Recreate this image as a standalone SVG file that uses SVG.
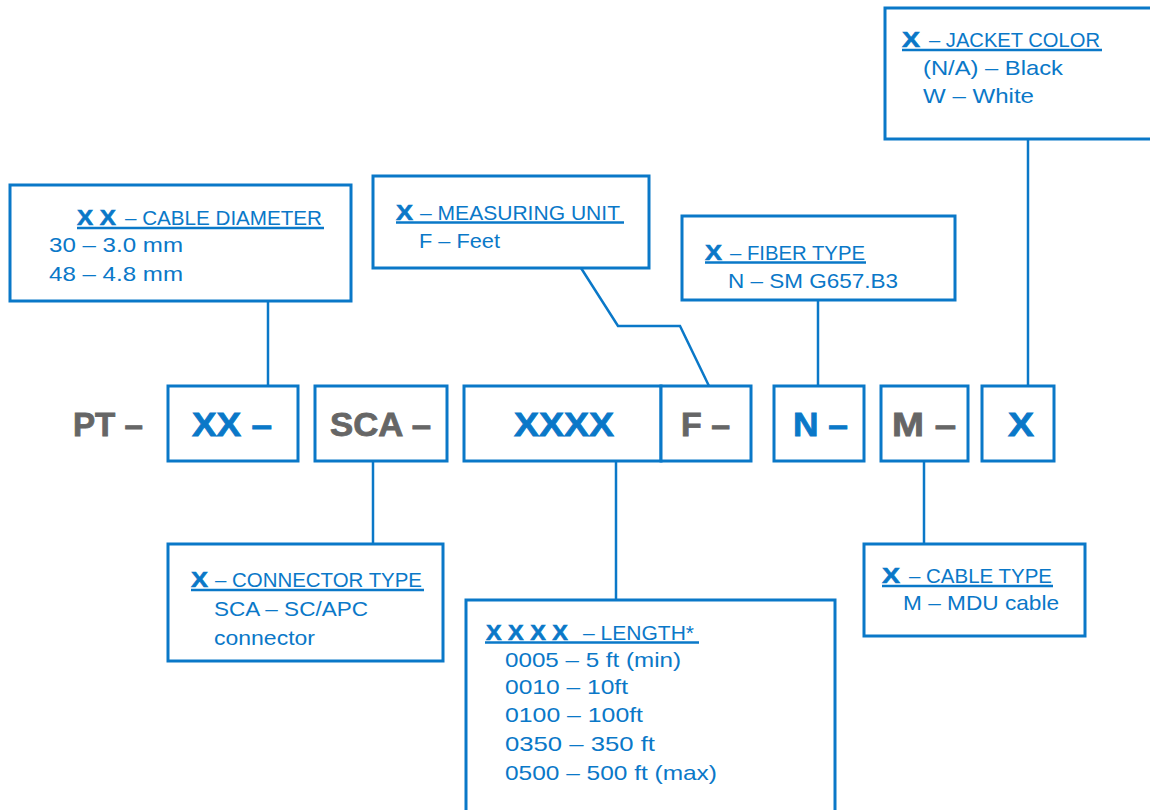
<svg xmlns="http://www.w3.org/2000/svg" width="1150" height="810" viewBox="0 0 1150 810">
<style>
.box{fill:#fff;stroke:#0a78c8;stroke-width:3}
.conn{fill:none;stroke:#0a78c8;stroke-width:2.5}
.ul{stroke:#0a78c8;stroke-width:2.5}
.lb{font-family:"Liberation Sans",Arial,sans-serif;font-size:21px;fill:#0a78c8}
.lbb{font-family:"Liberation Sans",Arial,sans-serif;font-size:22px;font-weight:bold;fill:#0a78c8;stroke:#0a78c8;stroke-width:0.6}
.cb{font-family:"Liberation Sans",Arial,sans-serif;font-size:33px;font-weight:bold;fill:#0a78c8;stroke:#0a78c8;stroke-width:0.8}
.cg{font-family:"Liberation Sans",Arial,sans-serif;font-size:33px;font-weight:bold;fill:#666;stroke:#666;stroke-width:0.8}
</style>
<rect width="1150" height="810" fill="#fff"/>
<g id="connectors">
<line class="conn" x1="268" y1="300" x2="268" y2="386"/>
<line class="conn" x1="373" y1="461" x2="373" y2="544"/>
<polyline class="conn" points="581,268 618,326 680,326 709,386"/>
<line class="conn" x1="818" y1="300" x2="818" y2="386"/>
<line class="conn" x1="1028" y1="139" x2="1028" y2="386"/>
<line class="conn" x1="616" y1="461" x2="616" y2="600"/>
<line class="conn" x1="924" y1="461" x2="924" y2="544"/>
</g>
<g id="cable-diameter">
<rect class="box" x="10" y="185" width="341" height="116"/>
<text class="lbb" x="77" y="225" textLength="39" lengthAdjust="spacingAndGlyphs">X X</text>
<text class="lb" x="125" y="225" textLength="197" lengthAdjust="spacingAndGlyphs">– CABLE DIAMETER</text>
<line class="ul" x1="77" y1="228" x2="324" y2="228"/>
<text class="lb" x="49" y="252" textLength="134" lengthAdjust="spacingAndGlyphs">30 – 3.0 mm</text>
<text class="lb" x="49" y="281" textLength="134" lengthAdjust="spacingAndGlyphs">48 – 4.8 mm</text>
</g>
<g id="measuring-unit">
<rect class="box" x="373" y="176" width="276" height="92"/>
<text class="lbb" x="396" y="220" textLength="17" lengthAdjust="spacingAndGlyphs">X</text>
<text class="lb" x="420" y="220" textLength="200" lengthAdjust="spacingAndGlyphs">– MEASURING UNIT</text>
<line class="ul" x1="396" y1="222.5" x2="624" y2="222.5"/>
<text class="lb" x="419" y="248" textLength="81" lengthAdjust="spacingAndGlyphs">F – Feet</text>
</g>
<g id="fiber-type">
<rect class="box" x="682" y="216" width="273" height="84"/>
<text class="lbb" x="705" y="260" textLength="17" lengthAdjust="spacingAndGlyphs">X</text>
<text class="lb" x="730" y="260" textLength="135" lengthAdjust="spacingAndGlyphs">– FIBER TYPE</text>
<line class="ul" x1="705" y1="262.5" x2="866" y2="262.5"/>
<text class="lb" x="728" y="288" textLength="170" lengthAdjust="spacingAndGlyphs">N – SM G657.B3</text>
</g>
<g id="jacket-color">
<rect class="box" x="885" y="8" width="280" height="131"/>
<text class="lbb" x="902" y="47" textLength="18" lengthAdjust="spacingAndGlyphs">X</text>
<text class="lb" x="929" y="47" textLength="171" lengthAdjust="spacingAndGlyphs">– JACKET COLOR</text>
<line class="ul" x1="902" y1="50" x2="1102" y2="50"/>
<text class="lb" x="923" y="75" textLength="140" lengthAdjust="spacingAndGlyphs">(N/A) – Black</text>
<text class="lb" x="923" y="103" textLength="111" lengthAdjust="spacingAndGlyphs">W – White</text>
</g>
<g id="code-pt">
<text class="cg" x="73" y="436" textLength="70" lengthAdjust="spacingAndGlyphs">PT –</text>
</g>
<g id="code-xx">
<rect class="box" x="168" y="386" width="130" height="75"/>
<text class="cb" x="192" y="436" textLength="80" lengthAdjust="spacingAndGlyphs">XX –</text>
</g>
<g id="code-sca">
<rect class="box" x="315" y="386" width="132" height="75"/>
<text class="cg" x="330" y="436" textLength="101" lengthAdjust="spacingAndGlyphs">SCA –</text>
</g>
<g id="code-xxxx">
<rect class="box" x="464" y="386" width="197" height="75"/>
<text class="cb" x="514" y="436" textLength="100" lengthAdjust="spacingAndGlyphs">XXXX</text>
</g>
<g id="code-f">
<rect class="box" x="661" y="386" width="90" height="75"/>
<text class="cg" x="681" y="436" textLength="49" lengthAdjust="spacingAndGlyphs">F –</text>
</g>
<g id="code-n">
<rect class="box" x="774" y="386" width="90" height="75"/>
<text class="cb" x="793" y="436" textLength="55" lengthAdjust="spacingAndGlyphs">N –</text>
</g>
<g id="code-m">
<rect class="box" x="881" y="386" width="87" height="75"/>
<text class="cg" x="892" y="436" textLength="64" lengthAdjust="spacingAndGlyphs">M –</text>
</g>
<g id="code-x">
<rect class="box" x="982" y="386" width="72" height="75"/>
<text class="cb" x="1008" y="436" textLength="26" lengthAdjust="spacingAndGlyphs">X</text>
</g>
<g id="connector-type">
<rect class="box" x="168" y="544" width="275" height="117"/>
<text class="lbb" x="191" y="587" textLength="17" lengthAdjust="spacingAndGlyphs">X</text>
<text class="lb" x="215" y="587" textLength="207" lengthAdjust="spacingAndGlyphs">– CONNECTOR TYPE</text>
<line class="ul" x1="191" y1="590" x2="424" y2="590"/>
<text class="lb" x="214" y="616" textLength="154" lengthAdjust="spacingAndGlyphs">SCA – SC/APC</text>
<text class="lb" x="214" y="645" textLength="101" lengthAdjust="spacingAndGlyphs">connector</text>
</g>
<g id="length">
<rect class="box" x="466" y="600" width="369" height="220"/>
<text class="lbb" x="486" y="640" textLength="82" lengthAdjust="spacingAndGlyphs">X X X X</text>
<text class="lb" x="583" y="640" textLength="111" lengthAdjust="spacingAndGlyphs">– LENGTH*</text>
<line class="ul" x1="485" y1="642.5" x2="699" y2="642.5"/>
<text class="lb" x="505" y="667" textLength="176" lengthAdjust="spacingAndGlyphs">0005 – 5 ft (min)</text>
<text class="lb" x="505" y="694" textLength="123" lengthAdjust="spacingAndGlyphs">0010 – 10ft</text>
<text class="lb" x="505" y="722" textLength="138" lengthAdjust="spacingAndGlyphs">0100 – 100ft</text>
<text class="lb" x="505" y="751" textLength="150" lengthAdjust="spacingAndGlyphs">0350 – 350 ft</text>
<text class="lb" x="505" y="780" textLength="212" lengthAdjust="spacingAndGlyphs">0500 – 500 ft (max)</text>
</g>
<g id="cable-type">
<rect class="box" x="864" y="544" width="221" height="92"/>
<text class="lbb" x="882" y="583" textLength="18" lengthAdjust="spacingAndGlyphs">X</text>
<text class="lb" x="909" y="583" textLength="143" lengthAdjust="spacingAndGlyphs">– CABLE TYPE</text>
<line class="ul" x1="882" y1="586" x2="1053" y2="586"/>
<text class="lb" x="903" y="610" textLength="156" lengthAdjust="spacingAndGlyphs">M – MDU cable</text>
</g>
</svg>
